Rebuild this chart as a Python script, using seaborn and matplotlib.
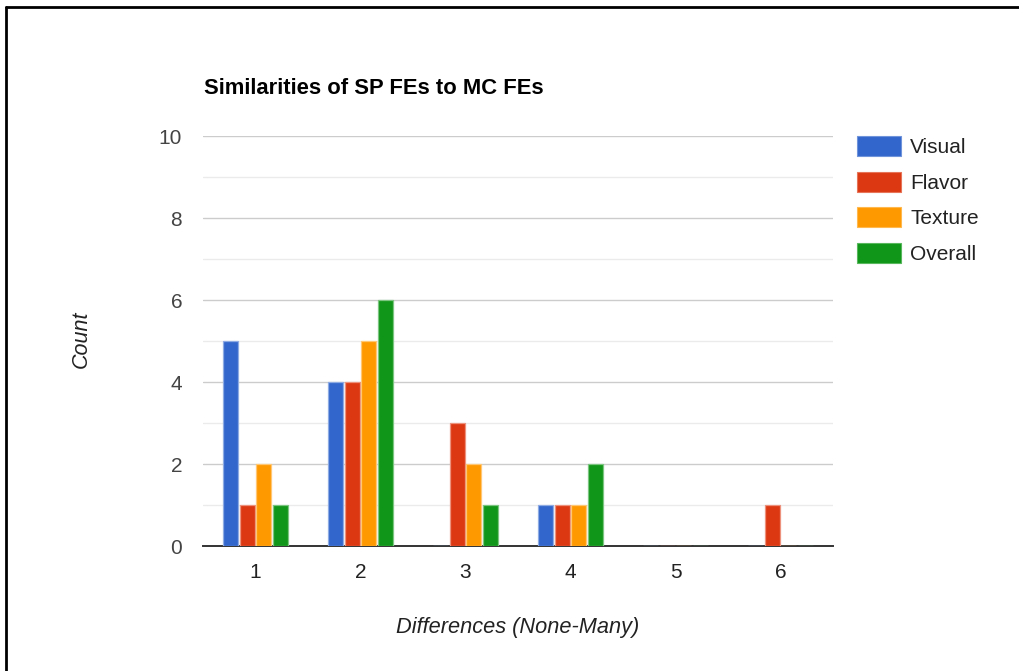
import matplotlib
matplotlib.use("Agg")
import matplotlib.pyplot as plt
from matplotlib.lines import Line2D
from matplotlib.patches import Patch
import seaborn as sns
import pandas as pd

# Data
categories = ["1", "2", "3", "4", "5", "6"]
visual = [5, 4, 0, 1, 0, 0]
flavor = [1, 4, 3, 1, 0, 1]
texture = [2, 5, 2, 1, 0, 0]
overall = [1, 6, 1, 2, 0, 0]
series_names = ["Visual", "Flavor", "Texture", "Overall"]
colors = ["#3366CC", "#DC3912", "#FF9900", "#109618"]
y_ticks = [0, 2, 4, 6, 8, 10]

rows = []
for name, vals in zip(series_names, [visual, flavor, texture, overall]):
    for c, v in zip(categories, vals):
        rows.append({"Differences": c, "Count": v, "Series": name})
df = pd.DataFrame(rows)

sns.set_style("white")
plt.rcParams["font.family"] = ["Liberation Sans", "DejaVu Sans"]

fig = plt.figure(figsize=(10.2, 6.71), dpi=100)
ax = fig.add_axes([203 / 1020, 1 - 546 / 671, 630 / 1020, 410 / 671])

sns.barplot(data=df, x="Differences", y="Count", hue="Series",
            order=categories, hue_order=series_names,
            palette=colors, saturation=1, width=0.63, gap=0.08,
            errorbar=None, legend=False, ax=ax, zorder=3)


def lighten(rgba, amount=0.45):
    r, g, b, _ = rgba
    return (r + (1 - r) * amount, g + (1 - g) * amount, b + (1 - b) * amount, 1.0)


# light outline; zero-height bars show as faint coloured strokes on the baseline
for bar in ax.patches:
    bar.set_edgecolor(lighten(bar.get_facecolor()))
    bar.set_linewidth(0.9)

ax.set_xlim(-0.5, 5.5)
ax.set_ylim(0, 10)
ax.set_yticks(y_ticks)
ax.set_yticks([1, 3, 5, 7, 9], minor=True)
ax.yaxis.grid(True, which="major", color="#cccccc", linewidth=1.0, zorder=0)
ax.yaxis.grid(True, which="minor", color="#ebebeb", linewidth=1.0, zorder=0)
ax.set_axisbelow(True)

for side in ["top", "right", "left"]:
    ax.spines[side].set_visible(False)
ax.spines["bottom"].set_color("#333333")
ax.spines["bottom"].set_linewidth(1.4)
ax.spines["bottom"].set_zorder(2)

ax.tick_params(axis="y", which="both", length=0, pad=15, labelsize=15, labelcolor="#444444")
ax.tick_params(axis="x", length=0, pad=12, labelsize=15, labelcolor="#222222")

ax.set_xlabel("Differences (None-Many)", fontsize=15.7, style="italic", color="#222222")
ax.xaxis.set_label_coords(0.5, -(628 - 546) / 410, transform=ax.transAxes)
ax.xaxis.label.set_va("center")
ax.set_ylabel("Count", fontsize=15.5, style="italic", color="#222222")
ax.yaxis.set_label_coords((81 - 203) / 630, 0.5 - (339 - 341) / 410)
ax.yaxis.label.set_va("center")

fig.text(204 / 1020, 1 - 88 / 671, "Similarities of SP FEs to MC FEs",
         fontsize=15.8, fontweight="bold", color="#000000", va="center", ha="left")

handles = [Patch(facecolor=c, edgecolor=lighten(matplotlib.colors.to_rgba(c), 0.3),
                 linewidth=0.8, label=n) for c, n in zip(colors, series_names)]
fig.legend(handles=handles, loc="upper left",
           bbox_to_anchor=(857 / 1020, 1 - 136 / 671),
           frameon=False, fontsize=15, borderpad=0, borderaxespad=0,
           handlelength=2.1, handleheight=1.1, handletextpad=0.45,
           labelspacing=0.7, labelcolor="#222222")

# page frame: top and left edges
fig.add_artist(Line2D([6 / 1020, 1], [1 - 7 / 671, 1 - 7 / 671],
                      transform=fig.transFigure, color="black", linewidth=2.0))
fig.add_artist(Line2D([6 / 1020, 6 / 1020], [0, 1 - 7 / 671],
                      transform=fig.transFigure, color="black", linewidth=2.0))

fig.savefig("out.png", dpi=100)
